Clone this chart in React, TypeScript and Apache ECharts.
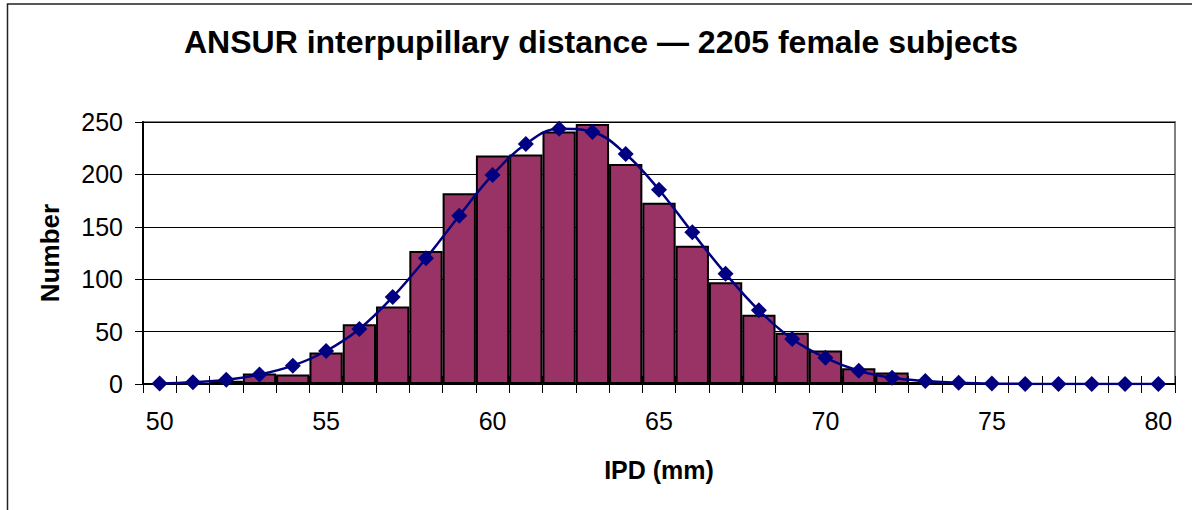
import React, { useEffect, useRef } from "react";
import * as echarts from "echarts";

const categories = [
  "50", "51", "52", "53", "54", "55", "56", "57", "58", "59", "60",
  "61", "62", "63", "64", "65", "66", "67", "68", "69", "70",
  "71", "72", "73", "74", "75", "76", "77", "78", "79", "80",
];

const observedCounts = [
  0, 0, 3, 10, 9, 30, 57, 74, 127, 182, 218,
  219, 241, 248, 210, 173, 132, 97, 66, 49, 32,
  15, 11, 2, 1, 0, 0, 0, 0, 0, 0,
];

const normalFit = [
  0.5, 1.6, 4, 9, 17.5, 31.5, 52.5, 83, 120, 160.6, 199.5,
  229, 243.6, 240.5, 219.5, 185.4, 144.7, 105.3, 70.3, 43, 25,
  12.7, 6, 2.9, 1.1, 0.4, 0.1, 0, 0, 0, 0,
];

const yTicks = [0, 50, 100, 150, 200, 250];

const titleText = "ANSUR interpupillary distance \u2014 2205 female subjects";
const xTitle = "IPD (mm)";
const yTitle = "Number";

const FONT = '"Liberation Sans", Arial, Helvetica, sans-serif';

export default function App() {
  const ref = useRef<HTMLDivElement>(null);

  useEffect(() => {
    if (!ref.current) return;
    const chart = echarts.init(ref.current, null, { renderer: "svg" });
    const yMax = yTicks[yTicks.length - 1];
    const yStep = yTicks[1] - yTicks[0];
    chart.setOption({
      animation: false,
      backgroundColor: "#ffffff",
      textStyle: { fontFamily: FONT },
      graphic: [
        {
          type: "rect",
          shape: { x: 7.5, y: 4, width: 1400, height: 700 },
          style: { fill: "none", stroke: "#222", lineWidth: 1.5 },
          silent: true,
          z: -10,
        },
        {
          type: "text",
          x: 601,
          y: 42,
          style: {
            text: titleText,
            font: `bold 32px ${FONT}`,
            fill: "#000",
            textAlign: "center",
            textVerticalAlign: "middle",
          },
        },
      ],
      grid: {
        left: 143,
        top: 122,
        right: 17,
        bottom: 126,
        show: true,
        borderColor: "#808080",
        borderWidth: 2,
        backgroundColor: "transparent",
      },
      xAxis: [
        {
          type: "category",
          data: categories,
          boundaryGap: true,
          name: xTitle,
          nameLocation: "middle",
          nameGap: 73,
          nameTextStyle: { fontFamily: FONT, fontSize: 25, fontWeight: "bold", color: "#000" },
          axisLine: { show: true, lineStyle: { color: "#000", width: 2 } },
          axisTick: { show: true, interval: 0, length: 9, lineStyle: { color: "#000", width: 1 } },
          axisLabel: {
            interval: (_i: number, v: string) => Number(v) % 5 === 0,
            margin: 24,
            fontSize: 25,
            fontFamily: FONT,
            color: "#000",
          },
          splitLine: { show: false },
        },
        {
          type: "category",
          data: categories,
          boundaryGap: true,
          position: "bottom",
          offset: 0,
          axisLine: { show: false },
          axisTick: { show: true, inside: true, interval: 0, length: 8, lineStyle: { color: "#000", width: 1 } },
          axisLabel: { show: false },
          splitLine: { show: false },
        },
      ],
      yAxis: [
        {
          type: "value",
          min: 0,
          max: yMax,
          interval: yStep,
          name: yTitle,
          nameLocation: "middle",
          nameGap: 80,
          nameRotate: 90,
          nameTextStyle: { fontFamily: FONT, fontSize: 26, fontWeight: "bold", color: "#000" },
          axisLine: { show: true, lineStyle: { color: "#000", width: 2 } },
          axisTick: { show: true, length: 8, lineStyle: { color: "#000", width: 1 } },
          axisLabel: { margin: 20, fontSize: 25, fontFamily: FONT, color: "#000" },
          splitLine: { show: true, lineStyle: { color: "#000", width: 1 } },
        },
        {
          type: "value",
          min: 0,
          max: yMax,
          interval: yStep,
          position: "left",
          offset: 0,
          axisLine: { show: false },
          axisTick: { show: true, inside: true, length: 8, lineStyle: { color: "#000", width: 1 } },
          axisLabel: { show: false },
          splitLine: { show: false },
        },
      ],
      series: [
        {
          type: "bar",
          name: "Observed",
          xAxisIndex: 0,
          yAxisIndex: 0,
          data: observedCounts,
          barWidth: "100%",
          barCategoryGap: "0%",
          itemStyle: { color: "#993366", borderColor: "#000", borderWidth: 2 },
          z: 2,
        },
        {
          type: "line",
          name: "Normal fit",
          xAxisIndex: 0,
          yAxisIndex: 0,
          data: normalFit,
          smooth: 0.4,
          symbol: "diamond",
          symbolSize: 16,
          lineStyle: { color: "#000080", width: 2.5 },
          itemStyle: { color: "#000080" },
          z: 5,
        },
      ],
    });
    return () => chart.dispose();
  }, []);

  return (
    <div
      ref={ref}
      style={{ position: "fixed", left: 0, top: 0, width: 1192, height: 510, background: "#fff" }}
    />
  );
}
